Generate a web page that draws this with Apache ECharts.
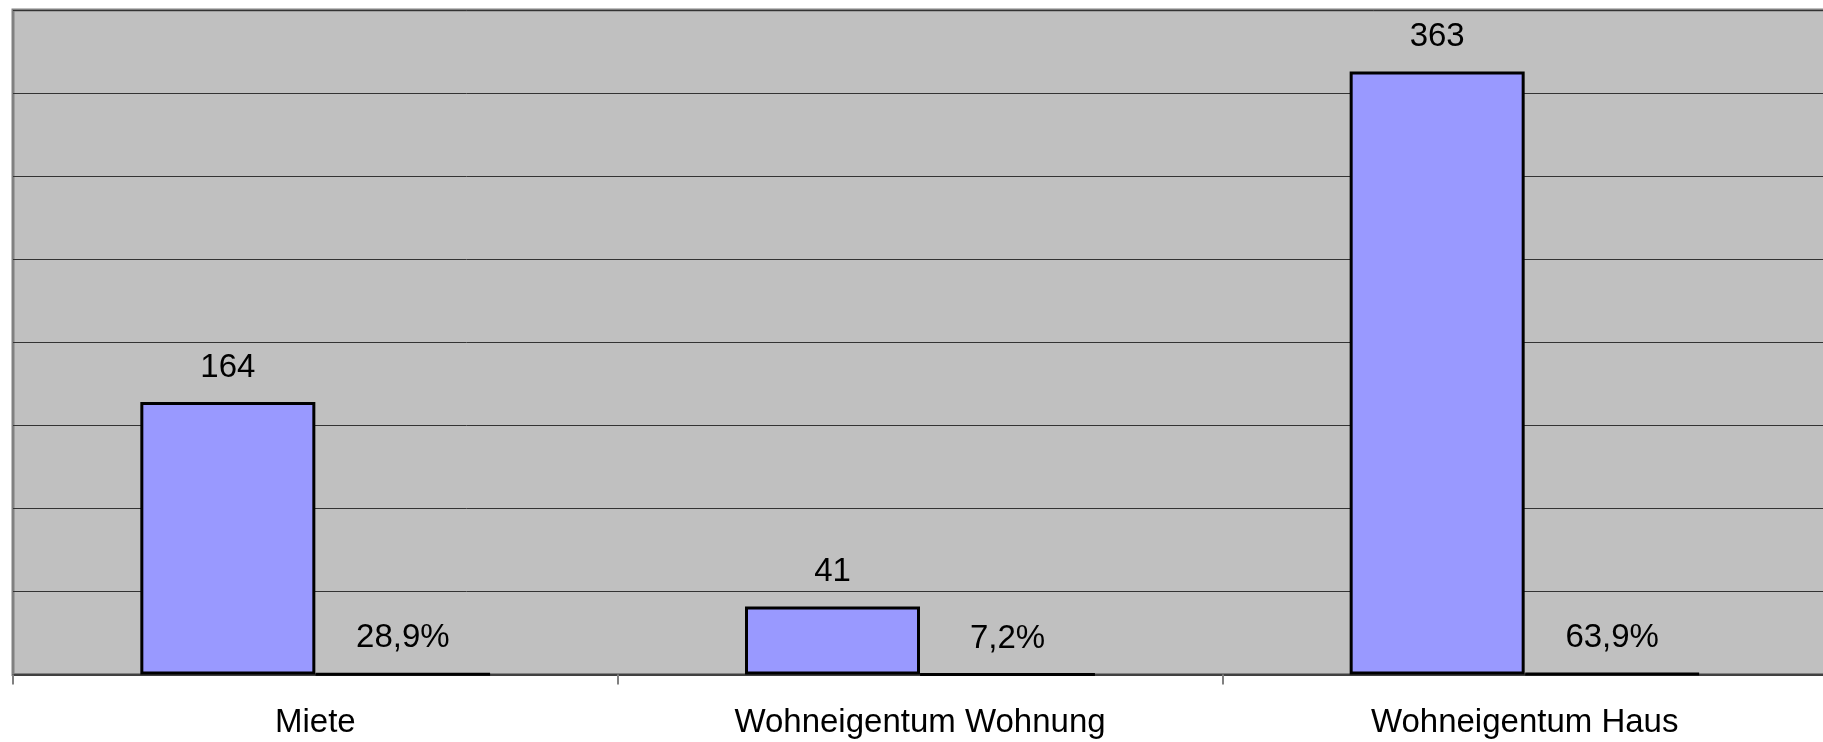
<!DOCTYPE html>
<html>
<head>
<meta charset="utf-8">
<script src="https://cdn.jsdelivr.net/npm/echarts@6/dist/echarts.min.js"></script>
<style>
  html, body { margin: 0; padding: 0; background: #fff; overflow: hidden; }
  #chart { width: 1834px; height: 742px; }
</style>
</head>
<body>
<div id="chart"></div>
<script>
var categories = ['Miete', 'Wohneigentum Wohnung', 'Wohneigentum Haus'];
var counts = [164, 41, 363];
var shares = [0.289, 0.072, 0.639];

var font = 'Arial, "Liberation Sans", sans-serif';

// plot area runs past the right edge of the window, as in the original
var myChart = echarts.init(document.getElementById('chart'));
var option = {
    animation: false,
    backgroundColor: '#ffffff',
    grid: {
        left: 13,
        width: 1814,
        top: 10,
        bottom: 67.5,
        show: true,
        backgroundColor: '#c0c0c0',
        borderColor: '#808080',
        borderWidth: 3
    },
    xAxis: {
        type: 'category',
        data: categories,
        axisLine: { lineStyle: { color: '#404040', width: 2 } },
        axisTick: { show: true, length: 10, lineStyle: { color: '#808080', width: 2 } },
        axisLabel: { color: '#000', fontFamily: font, fontSize: 33, margin: 32 }
    },
    yAxis: {
        type: 'value',
        min: 0,
        max: 400,
        interval: 50,
        axisLine: { show: false },
        axisTick: { show: false },
        axisLabel: { show: false },
        splitLine: { lineStyle: { color: '#333', width: 1 } }
    },
    series: [
        {
            name: 'Anzahl',
            type: 'bar',
            data: counts,
            barWidth: 175,
            barGap: '0%',
            itemStyle: { color: '#9999ff', borderColor: '#000', borderWidth: 3 },
            label: {
                show: true,
                position: 'top',
                distance: 18,
                color: '#000',
                fontFamily: font,
                fontSize: 33
            }
        },
        {
            name: 'Anteil',
            type: 'bar',
            data: shares,
            barWidth: 175,
            itemStyle: { color: '#9999ff', borderColor: '#000', borderWidth: 3 },
            label: {
                show: true,
                position: 'top',
                distance: 18,
                color: '#000',
                fontFamily: font,
                fontSize: 33,
                formatter: function (p) {
                    return (p.value * 100).toFixed(1).replace('.', ',') + '%';
                }
            }
        }
    ]
};
myChart.setOption(option);
</script>
</body>
</html>
